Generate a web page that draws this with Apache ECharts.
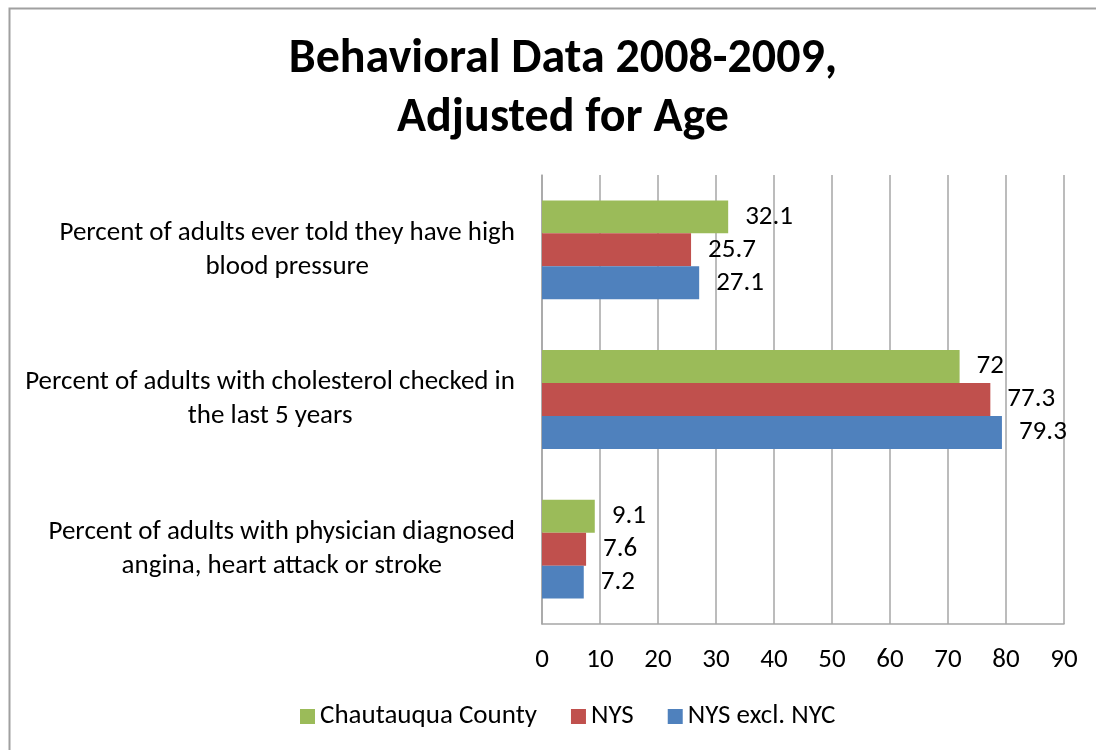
<!DOCTYPE html>
<html lang="en" style="height: 100%">

<head>
    <meta charset="utf-8" />
    <script src="https://cdn.jsdelivr.net/npm/echarts@6/dist/echarts.min.js"></script>
</head>

<body style="height: 100%; margin: 0; background: #fff">
    <div id="container" style="width: 1096px;height: 750px;"></div>
    <script type="text/javascript">
        var dom = document.getElementById('container');
        var myChart = echarts.init(dom, null, {
            renderer: 'canvas'
        });

        const fontName = 'Carlito, Lato, sans-serif';
        const colors = ['#9BBB59', '#C0504D', '#4F81BD'];
        const categories = [
            'Percent of adults ever told they have high\nblood pressure',
            'Percent of adults with cholesterol checked in\nthe last 5 years',
            'Percent of adults with physician diagnosed\nangina, heart attack or stroke'
        ];
        const seriesNames = ['Chautauqua County', 'NYS', 'NYS excl. NYC'];
        const data_Chautauqua = [32.1, 72, 9.1];
        const data_NYS = [25.7, 77.3, 7.6];
        const data_NYS_excl = [27.1, 79.3, 7.2];

        function makeSeries(name, data, color) {
            return {
                name: name,
                type: 'bar',
                data: data,
                barGap: '0%',
                barCategoryGap: '34%',
                itemStyle: {
                    color: color
                },
                label: {
                    show: true,
                    position: 'right',
                    distance: 17,
                    color: '#000',
                    fontSize: 27,
                    fontFamily: fontName
                }
            };
        }

        var option = {
            backgroundColor: '#fff',
            color: colors,
            animation: false,
            title: {
                text: 'Behavioral Data 2008-2009,\nAdjusted for Age',
                left: 558,
                top: 25,
                textAlign: 'center',
                textStyle: {
                    fontFamily: fontName,
                    fontSize: 48,
                    fontWeight: 'bold',
                    color: '#000',
                    lineHeight: 59
                }
            },
            legend: {
                bottom: 15,
                left: 295,
                itemWidth: 15,
                itemHeight: 15,
                itemGap: 34,
                icon: 'rect',
                textStyle: {
                    fontFamily: fontName,
                    fontSize: 27,
                    color: '#000'
                },
                data: seriesNames
            },
            grid: {
                left: 542,
                right: 32,
                top: 175,
                bottom: 126,
                containLabel: false
            },
            xAxis: {
                type: 'value',
                min: 0,
                max: 90,
                interval: 10,
                axisLine: {
                    show: true,
                    lineStyle: { color: '#a6a6a6', width: 1.5 }
                },
                axisTick: { show: false },
                splitLine: {
                    show: true,
                    lineStyle: { color: '#a6a6a6', width: 1.5 }
                },
                axisLabel: {
                    margin: 23,
                    color: '#000',
                    fontSize: 27,
                    fontFamily: fontName
                }
            },
            yAxis: {
                type: 'category',
                inverse: true,
                data: categories,
                axisLine: {
                    show: true,
                    lineStyle: { color: '#a6a6a6', width: 1.5 }
                },
                axisTick: { show: false },
                axisLabel: {
                    align: 'right',
                    margin: 27,
                    formatter: function (value) {
                        return value.split('\n').map(function (s) {
                            return '{c|' + s + '}';
                        }).join('\n');
                    },
                    rich: {
                        c: {
                            align: 'center',
                            fontSize: 27,
                            lineHeight: 34,
                            color: '#000',
                            fontFamily: fontName
                        }
                    }
                }
            },
            graphic: [{
                type: 'rect',
                left: 7,
                top: 6,
                shape: { width: 1200, height: 900 },
                style: { fill: 'none', stroke: '#a0a0a0', lineWidth: 2 },
                silent: true
            }],
            series: [
                makeSeries(seriesNames[0], data_Chautauqua, colors[0]),
                makeSeries(seriesNames[1], data_NYS, colors[1]),
                makeSeries(seriesNames[2], data_NYS_excl, colors[2])
            ]
        };

        if (option && typeof option === 'object') {
            myChart.setOption(option);
        }

        window.addEventListener('resize', myChart.resize);
    </script>
</body>

</html>
